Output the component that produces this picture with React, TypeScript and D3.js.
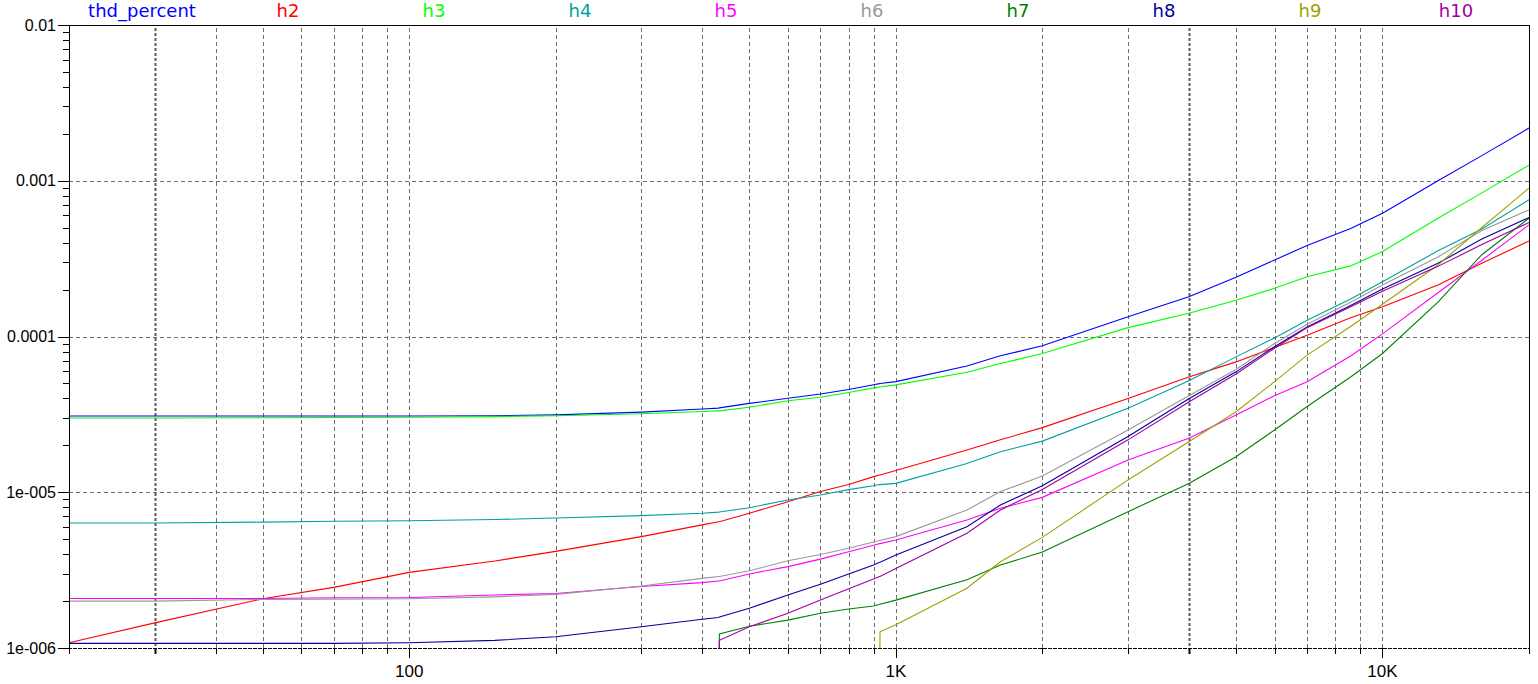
import React from "react";
import * as d3 from "d3";

// frequency grid (Hz) shared by all traces; null = trace not present
const freqs = [
	20, 30, 50, 70, 100, 150, 200, 300, 400, 432, 434, 500, 600, 700, 800, 900,
	926, 928, 1000, 1400, 1640, 2000, 3000, 4000, 5000, 6000, 7000, 8600, 10000,
	13000, 16000, 20000,
];

const thdPercent = [
	3.09e-5, 3.09e-5, 3.09e-5, 3.09e-5, 3.09e-5, 3.1e-5, 3.14e-5, 3.27e-5, 3.42e-5,
	3.47e-5, 3.48e-5, 3.72e-5, 4.01e-5, 4.27e-5, 4.57e-5, 4.9e-5, 4.98e-5, 4.99e-5,
	5.13e-5, 6.46e-5, 7.52e-5, 8.71e-5, 1.34e-4, 1.8e-4, 2.4e-4, 3.1e-4, 3.84e-4,
	4.93e-4, 6.19e-4, 1.0e-3, 1.45e-3, 2.18e-3,
];
const h2 = [
	1.08e-6, 1.45e-6, 2.07e-6, 2.45e-6, 3.06e-6, 3.62e-6, 4.17e-6, 5.19e-6, 6.17e-6,
	6.46e-6, 6.46e-6, 7.33e-6, 8.69e-6, 1.01e-5, 1.12e-5, 1.26e-5, 1.29e-5, 1.29e-5,
	1.38e-5, 1.87e-5, 2.17e-5, 2.6e-5, 4.0e-5, 5.5e-5, 6.87e-5, 8.51e-5, 1.02e-4,
	1.32e-4, 1.55e-4, 2.14e-4, 2.95e-4, 4.11e-4,
];
const h3 = [
	3.0e-5, 3.0e-5, 3.01e-5, 3.02e-5, 3.03e-5, 3.06e-5, 3.1e-5, 3.19e-5, 3.3e-5,
	3.33e-5, 3.33e-5, 3.51e-5, 3.87e-5, 4.07e-5, 4.37e-5, 4.68e-5, 4.73e-5, 4.74e-5,
	4.89e-5, 5.89e-5, 6.7e-5, 7.78e-5, 1.14e-4, 1.41e-4, 1.71e-4, 2.04e-4, 2.42e-4,
	2.84e-4, 3.51e-4, 5.75e-4, 8.36e-4, 1.26e-3,
];
const h4 = [
	6.35e-6, 6.35e-6, 6.43e-6, 6.52e-6, 6.56e-6, 6.68e-6, 6.84e-6, 7.08e-6, 7.33e-6,
	7.45e-6, 7.46e-6, 7.96e-6, 8.91e-6, 9.59e-6, 1.04e-5, 1.1e-5, 1.12e-5, 1.12e-5,
	1.14e-5, 1.53e-5, 1.82e-5, 2.13e-5, 3.46e-5, 5.19e-5, 7.4e-5, 9.79e-5, 1.27e-4,
	1.74e-4, 2.25e-4, 3.55e-4, 4.9e-4, 7.55e-4,
];
const h5 = [
	2.08e-6, 2.08e-6, 2.08e-6, 2.1e-6, 2.11e-6, 2.19e-6, 2.24e-6, 2.48e-6, 2.63e-6,
	2.69e-6, 2.69e-6, 2.99e-6, 3.33e-6, 3.72e-6, 4.15e-6, 4.57e-6, 4.68e-6, 4.68e-6,
	4.93e-6, 6.64e-6, 7.89e-6, 9.27e-6, 1.61e-5, 2.22e-5, 3.13e-5, 4.17e-5, 5.13e-5,
	7.5e-5, 1.04e-4, 1.91e-4, 3.09e-4, 5.21e-4,
];
const h6 = [
	2.0e-6, 2.0e-6, 2.05e-6, 2.06e-6, 2.07e-6, 2.13e-6, 2.21e-6, 2.5e-6, 2.8e-6,
	2.88e-6, 2.88e-6, 3.13e-6, 3.63e-6, 3.98e-6, 4.37e-6, 4.79e-6, 4.9e-6, 4.9e-6,
	5.19e-6, 7.69e-6, 1.01e-5, 1.27e-5, 2.51e-5, 4.17e-5, 6.14e-5, 9.02e-5, 1.2e-4,
	1.66e-4, 2.14e-4, 3.24e-4, 4.79e-4, 6.5e-4,
];
const h7 = [
	null, null, null, null, null, null, null, null, null,
	5.0e-7, 1.23e-6, 1.38e-6, 1.51e-6, 1.67e-6, 1.78e-6, 1.86e-6, 1.91e-6, 1.91e-6,
	2.03e-6, 2.74e-6, 3.41e-6, 4.13e-6, 7.5e-6, 1.14e-5, 1.69e-5, 2.51e-5, 3.55e-5,
	5.5e-5, 7.78e-5, 1.66e-4, 3.35e-4, 5.75e-4,
];
const h8 = [
	1.07e-6, 1.07e-6, 1.07e-6, 1.07e-6, 1.08e-6, 1.12e-6, 1.18e-6, 1.37e-6, 1.53e-6,
	1.57e-6, 1.58e-6, 1.8e-6, 2.19e-6, 2.57e-6, 2.99e-6, 3.41e-6, 3.55e-6, 3.55e-6,
	3.95e-6, 6.01e-6, 8.28e-6, 1.1e-5, 2.28e-5, 3.98e-5, 5.93e-5, 8.59e-5, 1.15e-4,
	1.58e-4, 2.02e-4, 2.95e-4, 4.22e-4, 5.81e-4,
];
const h9 = [
	null, null, null, null, null, null, null, null, null,
	null, null, null, null, null, null, null, 5.0e-7, 1.27e-6,
	1.41e-6, 2.42e-6, 3.58e-6, 5.13e-6, 1.2e-5, 2.11e-5, 3.29e-5, 5.13e-5, 7.59e-5,
	1.16e-4, 1.61e-4, 2.88e-4, 5.01e-4, 8.97e-4,
];
const h10 = [
	null, null, null, null, null, null, null, null, null,
	5.0e-7, 1.12e-6, 1.37e-6, 1.67e-6, 2.03e-6, 2.4e-6, 2.77e-6, 2.88e-6, 2.88e-6,
	3.24e-6, 5.46e-6, 7.69e-6, 1.04e-5, 2.17e-5, 3.8e-5, 5.75e-5, 8.41e-5, 1.14e-4,
	1.55e-4, 1.95e-4, 2.82e-4, 3.89e-4, 5.4e-4,
];

const seriesNames = ["thd_percent", "h2", "h3", "h4", "h5", "h6", "h7", "h8", "h9", "h10"];
const seriesValues = [thdPercent, h2, h3, h4, h5, h6, h7, h8, h9, h10];
const seriesColors = [
	"#0000ff", "#ff0000", "#00ff00", "#00a0a0", "#ff00ff",
	"#999999", "#008000", "#0000a0", "#a0a000", "#a000a0",
];

const xLabelTicks = [100, 1000, 10000];
const xTickLabels = ["100", "1K", "10K"];
const yDecades = [1e-6, 1e-5, 1e-4, 1e-3, 1e-2];
const yTickLabels = ["1e-006", "1e-005", "0.0001", "0.001", "0.01"];
const heavyGridFreqs = [30, 4000];

const W = 1538;
const H = 684;
const margin = { top: 25, right: 9, bottom: 36, left: 69 };

export default function App() {
	const x = d3.scaleLog().domain([20, 20000]).range([margin.left, W - margin.right]);
	const y = d3.scaleLog().domain([1e-6, 1e-2]).range([H - margin.bottom, margin.top]);
	const x0 = margin.left;
	const x1 = W - margin.right;
	const y0 = H - margin.bottom;
	const y1 = margin.top;

	const xTicks = x.ticks();
	const yTicks = y.ticks();
	const isDecade = (v: number) => Math.abs(Math.log10(v) - Math.round(Math.log10(v))) < 1e-9;

	const line = d3
		.line<[number, number | null]>()
		.defined((d) => d[1] != null)
		.x((d) => x(d[0]))
		.y((d) => y(d[1] as number));

	const legend = d3.scaleBand<string>().domain(seriesNames).range([x0, x1]);

	return (
		<svg
			width={W}
			height={H}
			style={{ position: "absolute", left: 0, top: 0, background: "#fff" }}
		>
			<defs>
				<clipPath id="plot">
					<rect x={x0} y={y1} width={x1 - x0} height={y0 - y1} />
				</clipPath>
			</defs>

			{/* vertical grid */}
			{xTicks
				.filter((t) => t > 20 && t < 20000)
				.map((t) => {
					const heavy = heavyGridFreqs.includes(t);
					return (
						<line
							key={"vg" + t}
							x1={Math.round(x(t)) + 0.5}
							x2={Math.round(x(t)) + 0.5}
							y1={y1 + 3}
							y2={y0}
							stroke={heavy ? "#5a5a5a" : "#6e6e6e"}
							strokeWidth={heavy ? 2 : 1}
							strokeDasharray={heavy ? "3,2" : "4,3"}
						/>
					);
				})}
			{/* horizontal grid */}
			{yDecades
				.filter((d) => d > 1e-6 && d < 1e-2)
				.map((d) => (
					<line
						key={"hg" + d}
						x1={x0}
						x2={x1}
						y1={Math.round(y(d)) + 0.5}
						y2={Math.round(y(d)) + 0.5}
						stroke="#6e6e6e"
						strokeDasharray="4,3"
					/>
				))}

			{/* traces */}
			<g clipPath="url(#plot)">
				{seriesValues.map((vals, i) => (
					<path
						key={seriesNames[i]}
						d={line(freqs.map((f, j) => [f, vals[j]] as [number, number | null])) || ""}
						fill="none"
						stroke={seriesColors[i]}
						strokeWidth={1.1}
					/>
				))}
			</g>

			{/* frame */}
			<line x1={x0 - 11} x2={x1} y1={y1 + 0.5} y2={y1 + 0.5} stroke="#000" />
			<line x1={x0 + 0.5} x2={x0 + 0.5} y1={y1} y2={y0} stroke="#000" />
			<line x1={x1 + 0.5} x2={x1 + 0.5} y1={y1} y2={y0 + 6} stroke="#000" />
			<line
				x1={x0 - 11}
				x2={x1}
				y1={y0 + 0.5}
				y2={y0 + 0.5}
				stroke="#000"
				strokeDasharray="4,1"
			/>

			{/* y ticks */}
			{yTicks.map((t) => {
				const major = isDecade(t);
				return (
					<line
						key={"yt" + t}
						x1={major ? x0 - 11 : x0 - 6}
						x2={x0}
						y1={Math.round(y(t)) + 0.5}
						y2={Math.round(y(t)) + 0.5}
						stroke="#000"
					/>
				);
			})}
			{yDecades.map((d, i) => (
				<text
					key={"yl" + d}
					x={56}
					y={y(d)}
					dy="0.35em"
					textAnchor="end"
					fontFamily="'Liberation Sans', Arial, sans-serif"
					fontSize={16}
					fontWeight={500}
					fill="#000"
				>
					{yTickLabels[i]}
				</text>
			))}

			{/* x ticks */}
			{xTicks.map((t) => {
				const major = isDecade(t);
				return (
					<line
						key={"xt" + t}
						x1={Math.round(x(t)) + 0.5}
						x2={Math.round(x(t)) + 0.5}
						y1={y0}
						y2={y0 + (major ? 10 : 6)}
						stroke="#000"
						strokeWidth={heavyGridFreqs.includes(t) ? 2 : 1}
					/>
				);
			})}
			{xLabelTicks.map((t, i) => (
				<text
					key={"xl" + t}
					x={x(t)}
					y={677}
					textAnchor="middle"
					fontFamily="'Liberation Sans', Arial, sans-serif"
					fontSize={17}
					fontWeight={500}
					fill="#000"
				>
					{xTickLabels[i]}
				</text>
			))}

			{/* legend */}
			{seriesNames.map((name, i) => (
				<text
					key={"lg" + name}
					x={(legend(name) as number) + legend.bandwidth() / 2}
					y={17}
					textAnchor="middle"
					fontFamily="'DejaVu Sans', Verdana, sans-serif"
					fontSize={18}
					fill={seriesColors[i]}
				>
					{name}
				</text>
			))}
		</svg>
	);
}
